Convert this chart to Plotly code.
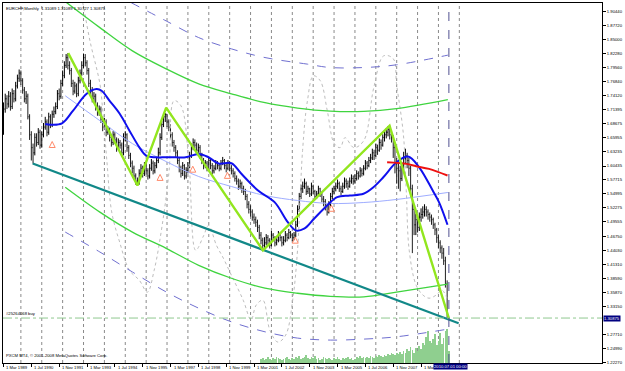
import plotly.graph_objects as go

# ---------------- data ----------------
SYMBOL_TITLE = "EURCHF,Monthly  1.31089 1.31089 1.30727 1.30875"
FIRST_YEAR, FIRST_MONTH = 1989, 3          # first monthly bar: Mar 1989
FIRST_OPEN = 1.705
LAST_OPEN = 1.31089

CLOSE = [
    1.715, 1.735, 1.725, 1.740, 1.720, 1.745, 1.735, 1.760, 1.775, 1.785, 1.770, 1.752, 1.735, 1.740,
    1.700, 1.665, 1.640, 1.630, 1.660, 1.650, 1.670, 1.645, 1.665, 1.680, 1.690, 1.670, 1.700, 1.685, 1.705, 1.710,
    1.720, 1.745, 1.740, 1.765, 1.780, 1.800, 1.815, 1.800, 1.790, 1.765, 1.750, 1.760, 1.745, 1.770, 1.785, 1.800, 1.815, 1.805, 1.790,
    1.765, 1.750, 1.735, 1.740, 1.720, 1.710, 1.715, 1.695, 1.680, 1.690, 1.670, 1.675, 1.660, 1.650, 1.665, 1.655, 1.640, 1.650, 1.645,
    1.630, 1.660, 1.665, 1.640, 1.625, 1.610, 1.600, 1.585, 1.575, 1.572, 1.590, 1.600, 1.590, 1.605, 1.595, 1.585, 1.600, 1.610, 1.595, 1.605, 1.615, 1.630,
    1.660, 1.685, 1.700, 1.705, 1.690, 1.680, 1.665, 1.650, 1.640, 1.630, 1.615, 1.600, 1.590, 1.605, 1.585, 1.595, 1.605, 1.625, 1.640, 1.650, 1.645, 1.635, 1.640, 1.625, 1.615,
    1.605, 1.610, 1.600, 1.615, 1.605, 1.595, 1.600, 1.610, 1.605, 1.600, 1.610, 1.615, 1.605, 1.600, 1.610, 1.600, 1.595,
    1.590, 1.580, 1.575, 1.565, 1.570, 1.560, 1.555, 1.545, 1.530, 1.520, 1.515, 1.505, 1.500, 1.495, 1.485, 1.470, 1.460, 1.450,
    1.455, 1.465, 1.460, 1.450, 1.470, 1.465, 1.455, 1.460, 1.470, 1.465, 1.455, 1.460, 1.470, 1.465, 1.475, 1.470, 1.465, 1.470,
    1.490, 1.520, 1.545, 1.560, 1.565, 1.570, 1.555, 1.560, 1.550, 1.565, 1.555, 1.545, 1.550, 1.560, 1.550, 1.540, 1.535, 1.525, 1.515, 1.530,
    1.545, 1.555, 1.560, 1.565, 1.570, 1.560, 1.555, 1.565, 1.575, 1.570, 1.565, 1.575, 1.580, 1.575, 1.580, 1.590, 1.585, 1.595, 1.590, 1.600, 1.610, 1.605, 1.615, 1.620, 1.630,
    1.625, 1.640, 1.635, 1.650, 1.645, 1.660, 1.665, 1.670, 1.675, 1.665, 1.660, 1.640, 1.610, 1.600, 1.595, 1.580, 1.600, 1.620, 1.625, 1.615, 1.600, 1.560, 1.520, 1.490,
    1.500, 1.485, 1.505, 1.510, 1.515, 1.520, 1.515, 1.510, 1.505, 1.500, 1.490, 1.480, 1.465, 1.455, 1.445, 1.435, 1.420, 1.375, 1.311, 1.30875,
]
HIGH = [
    1.728, 1.745, 1.742, 1.750, 1.748, 1.755, 1.752, 1.768, 1.782, 1.792, 1.790, 1.775, 1.758, 1.750,
    1.745, 1.705, 1.672, 1.648, 1.668, 1.668, 1.678, 1.675, 1.672, 1.688, 1.700, 1.695, 1.708, 1.705, 1.712, 1.720,
    1.728, 1.752, 1.755, 1.772, 1.790, 1.808, 1.822, 1.824, 1.808, 1.795, 1.772, 1.768, 1.765, 1.778, 1.792, 1.808, 1.823, 1.822, 1.810,
    1.795, 1.772, 1.758, 1.748, 1.745, 1.728, 1.722, 1.720, 1.700, 1.698, 1.695, 1.682, 1.680, 1.665, 1.672, 1.670, 1.660, 1.658, 1.655,
    1.650, 1.668, 1.672, 1.668, 1.645, 1.630, 1.615, 1.605, 1.590, 1.582, 1.598, 1.608, 1.605, 1.612, 1.610, 1.600, 1.608, 1.618, 1.615, 1.612, 1.622, 1.640,
    1.668, 1.692, 1.706, 1.707, 1.705, 1.695, 1.685, 1.670, 1.655, 1.645, 1.635, 1.620, 1.605, 1.612, 1.608, 1.602, 1.612, 1.632, 1.648, 1.658, 1.656, 1.650, 1.648, 1.645, 1.630,
    1.620, 1.616, 1.614, 1.622, 1.618, 1.610, 1.606, 1.616, 1.614, 1.610, 1.616, 1.622, 1.618, 1.610, 1.616, 1.614, 1.606,
    1.600, 1.594, 1.586, 1.580, 1.578, 1.574, 1.566, 1.560, 1.550, 1.536, 1.528, 1.520, 1.512, 1.506, 1.500, 1.490, 1.476, 1.465,
    1.466, 1.472, 1.470, 1.464, 1.478, 1.474, 1.468, 1.468, 1.478, 1.474, 1.468, 1.468, 1.478, 1.474, 1.482, 1.478, 1.474, 1.476,
    1.498, 1.528, 1.552, 1.568, 1.574, 1.580, 1.574, 1.566, 1.562, 1.572, 1.568, 1.558, 1.556, 1.566, 1.562, 1.554, 1.546, 1.540, 1.530, 1.536,
    1.552, 1.562, 1.566, 1.572, 1.578, 1.574, 1.566, 1.572, 1.582, 1.580, 1.576, 1.582, 1.588, 1.586, 1.588, 1.596, 1.594, 1.602, 1.600, 1.606, 1.616, 1.614, 1.622, 1.628, 1.638,
    1.636, 1.648, 1.646, 1.658, 1.656, 1.666, 1.672, 1.678, 1.682, 1.683, 1.670, 1.664, 1.645, 1.620, 1.612, 1.605, 1.610, 1.632, 1.638, 1.630, 1.620, 1.605, 1.568, 1.530,
    1.512, 1.506, 1.514, 1.522, 1.526, 1.530, 1.526, 1.520, 1.514, 1.510, 1.504, 1.494, 1.484, 1.470, 1.460, 1.450, 1.445, 1.428, 1.382, 1.31089,
]
LOW = [
    1.665, 1.708, 1.715, 1.718, 1.712, 1.715, 1.728, 1.730, 1.755, 1.768, 1.762, 1.745, 1.728, 1.725,
    1.695, 1.655, 1.615, 1.609, 1.625, 1.642, 1.645, 1.638, 1.640, 1.660, 1.675, 1.662, 1.665, 1.678, 1.680, 1.698,
    1.705, 1.715, 1.732, 1.735, 1.760, 1.775, 1.795, 1.792, 1.782, 1.758, 1.742, 1.745, 1.738, 1.740, 1.765, 1.780, 1.795, 1.798, 1.782,
    1.758, 1.742, 1.728, 1.728, 1.712, 1.702, 1.702, 1.688, 1.672, 1.675, 1.662, 1.665, 1.652, 1.642, 1.645, 1.648, 1.632, 1.635, 1.638,
    1.622, 1.625, 1.652, 1.632, 1.618, 1.602, 1.590, 1.578, 1.568, 1.566, 1.568, 1.585, 1.582, 1.585, 1.588, 1.578, 1.580, 1.595, 1.588, 1.590, 1.600, 1.610,
    1.625, 1.655, 1.680, 1.690, 1.680, 1.672, 1.658, 1.642, 1.632, 1.622, 1.608, 1.592, 1.582, 1.585, 1.578, 1.580, 1.590, 1.600, 1.620, 1.635, 1.638, 1.628, 1.630, 1.618, 1.608,
    1.598, 1.600, 1.594, 1.596, 1.598, 1.588, 1.590, 1.596, 1.598, 1.594, 1.596, 1.606, 1.598, 1.592, 1.596, 1.594, 1.588,
    1.582, 1.574, 1.568, 1.558, 1.560, 1.552, 1.548, 1.538, 1.522, 1.512, 1.506, 1.498, 1.492, 1.486, 1.476, 1.462, 1.452, 1.440,
    1.444, 1.450, 1.452, 1.444, 1.448, 1.458, 1.448, 1.450, 1.456, 1.458, 1.448, 1.450, 1.456, 1.458, 1.462, 1.464, 1.458, 1.460,
    1.466, 1.486, 1.515, 1.540, 1.552, 1.560, 1.548, 1.550, 1.544, 1.546, 1.550, 1.538, 1.540, 1.546, 1.544, 1.534, 1.526, 1.518, 1.508, 1.512,
    1.526, 1.540, 1.550, 1.555, 1.560, 1.554, 1.548, 1.552, 1.560, 1.562, 1.558, 1.562, 1.570, 1.568, 1.570, 1.576, 1.578, 1.582, 1.584, 1.586, 1.596, 1.598, 1.602, 1.610, 1.616,
    1.616, 1.622, 1.626, 1.632, 1.636, 1.642, 1.652, 1.658, 1.662, 1.656, 1.650, 1.620, 1.590, 1.570, 1.560, 1.555, 1.575, 1.595, 1.610, 1.600, 1.585, 1.545, 1.435, 1.470,
    1.470, 1.475, 1.478, 1.496, 1.502, 1.506, 1.506, 1.500, 1.496, 1.490, 1.482, 1.470, 1.455, 1.445, 1.435, 1.424, 1.412, 1.368, 1.308, 1.30727,
]
assert len(CLOSE) == len(HIGH) == len(LOW) == 257

# tick volume (arbitrary units), shown from Mar 2001 onward
VOLUME_START = 148
VOLUME = [
    4, 5, 3, 4, 6, 4, 3, 5, 4, 6, 5, 4, 3, 4, 5, 6, 4, 3, 5, 4,
    6, 5, 7, 4, 5, 6, 8, 5, 4, 6, 5, 7, 4, 5, 3, 4, 6, 5, 4, 5,
    4, 3, 5, 4, 6, 4, 3, 5, 4, 5, 6, 4, 5, 3, 4, 6, 5, 7, 5, 6,
    5, 6, 5, 7, 6, 5, 7, 6, 8, 7, 6, 8, 7, 9, 8, 10, 9, 8, 10, 9,
    11, 9, 12, 10, 14, 12, 16, 13, 10, 15, 12,
    17, 14, 20, 18, 26, 32, 22, 20, 24, 29, 18, 22, 30, 19, 25, 32, 34, 12,
]

# moving averages (bar index, price)
BLUE_MA_IDX = [24, 27, 33.6, 40, 47.8, 53.5, 56.4, 61, 66.8, 72.4, 78.1, 82, 87.6, 93.3, 99, 104.7, 112.2,
               117.9, 123.6, 131, 136.6, 146.3, 155.8, 163.4, 168, 172.8, 178.5, 186, 191.8, 199.1, 206.9,
               212.6, 218.3, 225.9, 232.5, 238.9, 246.7, 250.3, 255.2]
BLUE_MA = [1.6861, 1.6847, 1.6872, 1.7119, 1.7448, 1.7539, 1.7506, 1.7312, 1.7060, 1.6731, 1.6407, 1.6246,
           1.6213, 1.6213, 1.6213, 1.6213, 1.6279, 1.6213, 1.6091, 1.6097, 1.5897, 1.5568, 1.5341, 1.4953,
           1.4792, 1.4825, 1.5019, 1.5276, 1.5437, 1.5470, 1.5503, 1.5631, 1.5825, 1.6116, 1.6227, 1.6019,
           1.5567, 1.5341, 1.4902]
RED_MA_IDX = [220.5, 231.7, 237.2, 244.6, 255.2]
RED_MA = [1.6116, 1.6085, 1.6039, 1.5988, 1.5858]

# zigzag turning points
ZIGZAG_IDX = [37.2, 77, 93.5, 149.1, 221.9, 256]
ZIGZAG = [1.8237, 1.5664, 1.7177, 1.4404, 1.6828, 1.3083]

# trend line
TREND_IDX = [16.8, 261.6]
TREND = [1.6091, 1.2988]

# arcs
ARC_IDX = [35.5, 55.4, 74.1, 93.5, 112.2, 131, 150.3, 169, 187.8, 207.1, 225.9, 255.4]
ARC_GREEN_TOP = [1.9240, 1.8734, 1.8282, 1.7933, 1.7642, 1.7448, 1.7274, 1.7170, 1.7110, 1.7105, 1.7157, 1.7332]
ARC_GREEN_LOW = [1.5631, 1.5147, 1.4759, 1.4443, 1.4113, 1.3861, 1.3667, 1.3570, 1.3510, 1.3500, 1.3590, 1.3745]
ARC_LIGHTBLUE = [1.7409, 1.6925, 1.6479, 1.6130, 1.5839, 1.5645, 1.5470, 1.5373, 1.5315, 1.5334, 1.5393, 1.5529]
ARC_DASH_LOW = [1.4759, 1.4371, 1.3983, 1.3595, 1.3279, 1.3014, 1.2820, 1.2698, 1.2659, 1.2678, 1.2723, 1.2872]
ARC_DASH_TOP_IDX = [73.4, 93.5, 112.2, 131, 150.3, 174.7, 187.8, 207.1, 225.9, 255.4]
ARC_DASH_TOP = [1.9219, 1.8864, 1.8540, 1.8321, 1.8152, 1.8024, 1.7958, 1.7958, 1.8011, 1.8199]

# grey dotted indicator line
GREY_IDX = [44, 45.7, 49.7, 55.4, 57.1, 59.4, 62.2, 66.8, 72.4, 78.1, 82.7, 86.6, 91.2, 95.2, 98, 102, 106.5,
            110.5, 115.1, 117.9, 122.4, 126.4, 131, 137.8, 142.3, 145.2, 149.1, 153.1, 157.7, 162.2, 166.2,
            169, 171.9, 174.7, 178.1, 182.1, 186.1, 190.1, 193.5, 196.3, 201.4, 207.1, 212.8, 218.5, 224.1,
            225.9, 229.8, 231.5, 233.2, 237.2, 241.2, 244.6, 248.6, 252, 255.4]
GREY = [1.945, 1.9193, 1.8476, 1.7642, 1.7100, 1.6150, 1.5150, 1.4560, 1.4016, 1.3822, 1.3590, 1.4016, 1.4889,
        1.5955, 1.7312, 1.7215, 1.6149, 1.4404, 1.4695, 1.4889, 1.4501, 1.4249, 1.3919, 1.3434, 1.3047,
        1.3337, 1.3434, 1.2853, 1.2620, 1.2756, 1.3434, 1.4404, 1.6343, 1.7312, 1.7797, 1.7700, 1.7119,
        1.6479, 1.6401, 1.6595, 1.6401, 1.6537, 1.7565, 1.8185, 1.8127, 1.7642, 1.6673, 1.5567, 1.4404,
        1.3725, 1.3531, 1.3473, 1.3531, 1.3628, 1.3434]

# buy arrows
ARROW_IDX = [28, 90, 108.8, 128.7, 167.7, 188.5]
ARROW = [1.652, 1.588, 1.604, 1.592, 1.466, 1.528]

ORDER_PRICE = 1.30875
ORDER_TEXT = "#25264068 buy"
CURRENT_TIME = "2010.07.01 00:00"
COPYRIGHT = "PXCM MT4, \u00a9 2001-2008 MetaQuotes Software Corp."

PRICE_LABELS = ["1.90440", "1.87720", "1.85000", "1.82280", "1.79560", "1.76840", "1.74120", "1.71395",
                "1.68675", "1.65955", "1.63235", "1.60435", "1.57715", "1.54995", "1.52275", "1.49555",
                "1.46750", "1.44030", "1.41310", "1.38590", "1.35870", "1.33150", "1.27710", "1.24990", "1.22270"]
TIME_LABELS = [(1989, 3), (1990, 7), (1991, 11), (1993, 3), (1994, 7), (1995, 11), (1997, 3), (1998, 7),
               (1999, 11), (2001, 3), (2002, 7), (2003, 11), (2005, 3), (2006, 7), (2007, 11), (2009, 3)]
GRID_YEARS = list(range(1990, 2012))
MONTHS = ["Jan", "Feb", "Mar", "Apr", "May", "Jun", "Jul", "Aug", "Sep", "Oct", "Nov", "Dec"]


def bar_index(year, month):
    return (year - FIRST_YEAR) * 12 + (month - FIRST_MONTH)


N = len(CLOSE)
IDX = list(range(N))
OPEN = [FIRST_OPEN] + CLOSE[:-1]
OPEN[-1] = LAST_OPEN
LAST = N - 1

FONT = "Liberation Sans, Arial, sans-serif"
fig = go.Figure()

# volumes
fig.add_trace(go.Bar(x=list(range(VOLUME_START, VOLUME_START + len(VOLUME))), y=VOLUME, yaxis="y2",
                     marker=dict(color="#8fcf8f", line=dict(width=0)), width=0.38, hoverinfo="skip"))

# grey dotted indicator
fig.add_trace(go.Scatter(x=GREY_IDX, y=GREY, mode="lines", line=dict(color="#bdbdbd", width=1, dash="dot", shape="spline"),
                         hoverinfo="skip"))

# arcs
for ys, col, dash, w, xs in [
    (ARC_GREEN_TOP, "#3fd43f", "solid", 1.3, ARC_IDX),
    (ARC_GREEN_LOW, "#3fd43f", "solid", 1.3, ARC_IDX),
    (ARC_LIGHTBLUE, "#9fadff", "solid", 1, ARC_IDX),
    (ARC_DASH_LOW, "#7070d0", "dash", 1, ARC_IDX),
    (ARC_DASH_TOP, "#7070d0", "dash", 1, ARC_DASH_TOP_IDX),
]:
    fig.add_trace(go.Scatter(x=xs, y=ys, mode="lines", line=dict(color=col, width=w, dash=dash, shape="spline"),
                             hoverinfo="skip"))

# price bars
fig.add_trace(go.Ohlc(x=IDX, open=OPEN, high=HIGH, low=LOW, close=CLOSE, tickwidth=0.4,
                      increasing=dict(line=dict(color="#000000", width=1)),
                      decreasing=dict(line=dict(color="#202020", width=1)), hoverinfo="skip"))

# moving averages
fig.add_trace(go.Scatter(x=BLUE_MA_IDX, y=BLUE_MA, mode="lines", line=dict(color="#1010ee", width=2, shape="spline"),
                         hoverinfo="skip"))
fig.add_trace(go.Scatter(x=RED_MA_IDX, y=RED_MA, mode="lines", line=dict(color="#ee1010", width=2, shape="spline"),
                         hoverinfo="skip"))

# trend line and zigzag
fig.add_trace(go.Scatter(x=TREND_IDX, y=TREND, mode="lines", line=dict(color="#118888", width=2.2), hoverinfo="skip"))
fig.add_trace(go.Scatter(x=ZIGZAG_IDX, y=ZIGZAG, mode="lines", line=dict(color="#92e61e", width=2.4), hoverinfo="skip"))

# arrows
fig.add_trace(go.Scatter(x=ARROW_IDX, y=ARROW, mode="markers",
                         marker=dict(symbol="arrow-up-open", size=6, color="#ff8a6a", line=dict(color="#ff8a6a", width=1)),
                         hoverinfo="skip"))

shapes = []
for yr in GRID_YEARS:
    g = bar_index(yr, 1)
    shapes.append(dict(type="line", xref="x", yref="paper", x0=g, x1=g, y0=0, y1=1, layer="below",
                       line=dict(color="#8a8a8a", width=1, dash="dot")))
shapes.append(dict(type="line", xref="paper", yref="y", x0=0, x1=1, y0=ORDER_PRICE, y1=ORDER_PRICE,
                   line=dict(color="#8fc88f", width=1, dash="dashdot")))
shapes.append(dict(type="line", xref="x", yref="paper", x0=LAST, x1=LAST, y0=0, y1=1,
                   line=dict(color="#505090", width=1, dash="dash")))

annotations = []
for i, (yr, mo) in enumerate(TIME_LABELS):
    # the last label is partly hidden by the current-time box in the reference: only "1 Mar" is visible
    txt = f"1 {MONTHS[mo - 1]}" if i == len(TIME_LABELS) - 1 else f"1 {MONTHS[mo - 1]} {yr}"
    annotations.append(dict(xref="x", yref="paper", x=bar_index(yr, mo), y=0, xanchor="left", yanchor="top",
                            xshift=1, yshift=0, showarrow=False, text=txt,
                            font=dict(size=4.2, color="#000000", family=FONT)))
annotations.append(dict(xref="x", yref="paper", x=LAST, y=0, xanchor="center", yanchor="top", yshift=0, xshift=2,
                        showarrow=False, text=CURRENT_TIME, bgcolor="#000080", borderpad=0,
                        font=dict(size=4.2, color="#ffffff", family=FONT)))
annotations.append(dict(xref="paper", yref="y", x=1, y=ORDER_PRICE, xanchor="left", yanchor="middle", xshift=1,
                        showarrow=False, text=f"{ORDER_PRICE:.5f}", bgcolor="#000080", borderpad=0,
                        font=dict(size=4.2, color="#ffffff", family=FONT)))
annotations.append(dict(xref="paper", yref="paper", x=0, y=1, xanchor="left", yanchor="top", xshift=1, yshift=-1,
                        showarrow=False, text=SYMBOL_TITLE, font=dict(size=4.2, color="#000000", family=FONT)))
annotations.append(dict(xref="paper", yref="paper", x=0, y=0, xanchor="left", yanchor="bottom", xshift=1, yshift=3,
                        showarrow=False, text=COPYRIGHT, font=dict(size=4.2, color="#000000", family=FONT)))
annotations.append(dict(xref="paper", yref="y", x=0, y=ORDER_PRICE, xanchor="left", yanchor="bottom", xshift=1,
                        showarrow=False, text=ORDER_TEXT, font=dict(size=4.2, color="#000000", family=FONT)))

fig.update_layout(
    width=625, height=371,
    margin=dict(l=2, r=17, t=2, b=8),
    paper_bgcolor="#ffffff", plot_bgcolor="#ffffff",
    showlegend=False,
    font=dict(family=FONT, size=4.2, color="#000000"),
    xaxis=dict(range=[-0.28, 344.0], showgrid=False, zeroline=False, showline=True, linecolor="#000000",
               linewidth=1, mirror=True, tickvals=[bar_index(y, m) for (y, m) in TIME_LABELS], ticks="outside",
               ticklen=3, tickcolor="#000000", showticklabels=False, rangeslider=dict(visible=False), fixedrange=True),
    yaxis=dict(side="right", range=[1.22134, 1.92127], showgrid=False, zeroline=False, showline=True,
               linecolor="#000000", linewidth=1, mirror=True, tickvals=[float(t) for t in PRICE_LABELS],
               ticktext=PRICE_LABELS, ticks="outside", ticklen=3, tickcolor="#000000",
               tickfont=dict(size=4.2, color="#000000", family=FONT), fixedrange=True),
    yaxis2=dict(overlaying="y", range=[0, 361], visible=False, fixedrange=True),
    shapes=shapes,
    annotations=annotations,
    bargap=0,
)

fig.write_html("out.html")
